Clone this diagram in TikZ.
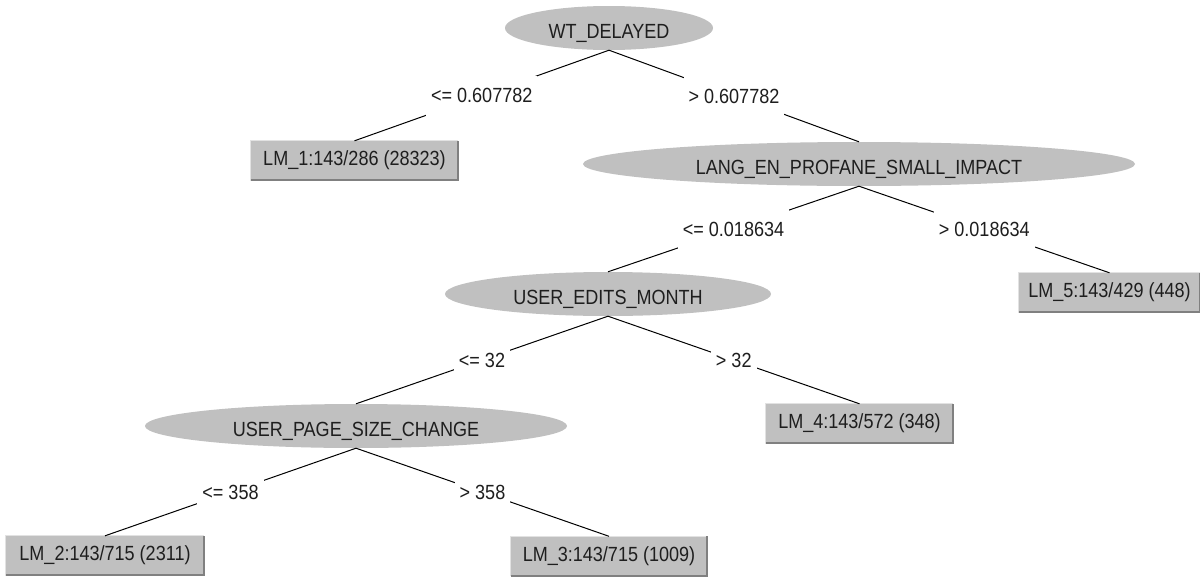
\documentclass[tikz,border=0pt]{standalone}
\usepackage{fontspec}
\setmainfont{Liberation Sans}[FakeStretch=0.88]
\usetikzlibrary{shapes.geometric}
\definecolor{nodegray}{RGB}{192,192,192}
\definecolor{shadegray}{RGB}{128,128,128}
\definecolor{lightrim}{RGB}{226,226,226}
\definecolor{ink}{RGB}{30,30,30}
\begin{document}
\begin{tikzpicture}[x=1pt,y=-1pt,
  every node/.style={font=\fontsize{20.5}{23}\selectfont, text=ink},
  split/.style={ellipse, fill=nodegray, inner sep=0pt, minimum height=44pt,
                text height=21pt, text depth=0pt},
  leaf/.style={rectangle, fill=nodegray, inner sep=0pt, minimum height=39pt},
  cond/.style={fill=white, inner xsep=5pt, inner ysep=0pt, minimum height=40pt},
  branch/.style={draw=black, line width=1pt}]
% canvas
\useasboundingbox[fill=white] (0,0) rectangle (1200,576);

% split nodes
\node[split, minimum width=208pt] (wt)   at (609,28)  {WT\_DELAYED};
\node[split, minimum width=552pt] (lang) at (859,164) {LANG\_EN\_PROFANE\_SMALL\_IMPACT};
\node[split, minimum width=326pt] (uem)  at (608,294) {USER\_EDITS\_MONTH};
\node[split, minimum width=422pt] (upsc) at (356,426) {USER\_PAGE\_SIZE\_CHANGE};

% leaf models
\node[leaf, minimum width=207pt] (lm1) at (354.5,160.5) {LM\_1:143/286 (28323)\hspace{14pt}};
\node[leaf, minimum width=181pt] (lm5) at (1109.5,292.5) {LM\_5:143/429 (448)\hspace{10pt}};
\node[leaf, minimum width=187pt] (lm4) at (859.5,423.5) {LM\_4:143/572 (348)\hspace{12pt}};
\node[leaf, minimum width=198pt] (lm2) at (105,555.5) {LM\_2:143/715 (2311)\hspace{12pt}};
\node[leaf, minimum width=196pt] (lm3) at (609,556) {LM\_3:143/715 (1009)\hspace{14pt}};

% raised rims of the leaf boxes
\foreach \b in {lm1,lm2,lm3,lm4,lm5}{
  \draw[lightrim, line width=1pt] ([yshift=-0.5pt]\b.south west) |- ([xshift=-0.5pt]\b.north east);
  \draw[shadegray, line width=2pt] (\b.south west) -| (\b.north east);
}

% branches with their split conditions
\draw[branch] (wt.south)   -- node[cond] {<= 0.607782} (lm1.north);
\draw[branch] (wt.south)   -- node[cond] {> 0.607782}  (lang.north);
\draw[branch] (lang.south) -- node[cond] {<= 0.018634} (uem.north);
\draw[branch] (lang.south) -- node[cond] {> 0.018634}  (lm5.north);
\draw[branch] (uem.south)  -- node[cond] {<= 32}       (upsc.north);
\draw[branch] (uem.south)  -- node[cond] {> 32}        (lm4.north);
\draw[branch] (upsc.south) -- node[cond] {<= 358}      (lm2.north);
\draw[branch] (upsc.south) -- node[cond] {> 358}       (lm3.north);
\end{tikzpicture}
\end{document}
